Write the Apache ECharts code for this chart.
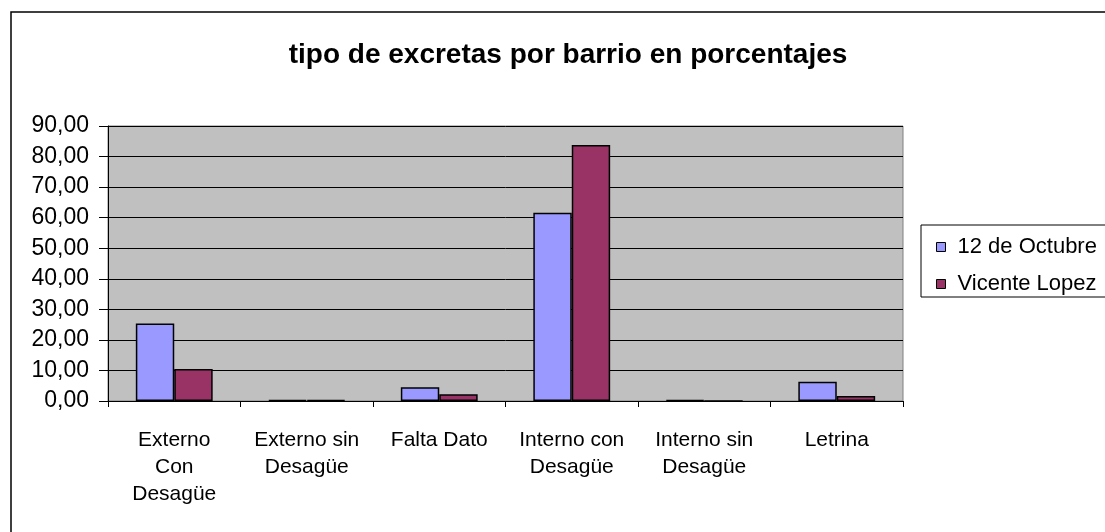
<!DOCTYPE html>
<html>
<head>
<meta charset="utf-8">
<script src="https://cdn.jsdelivr.net/npm/echarts@6/dist/echarts.min.js"></script>
<style>
  html, body { margin: 0; padding: 0; background: #fff; }
  #chart { width: 1105px; height: 532px; }
</style>
</head>
<body>
<div id="chart"></div>
<script>
// datos
const categorias = ['Externo\nCon\nDesagüe', 'Externo sin\nDesagüe', 'Falta Dato', 'Interno con\nDesagüe', 'Interno sin\nDesagüe', 'Letrina']
const octubre = [25.4, 0.3, 4.5, 61.6, 0.3, 6.3]
const vicenteLopez = [10.5, 0.3, 2.2, 83.8, 0, 1.6]
const series_nombres = ['12 de Octubre', 'Vicente Lopez']

const chart = echarts.init(document.getElementById('chart'), null, { renderer: 'canvas' })
const fuente = '"Liberation Sans", Arial, sans-serif'

chart.setOption({
  animation: false,
  textStyle: { fontFamily: fuente },
  title: {
    text: 'tipo de excretas por barrio en porcentajes',
    left: 563,
    textAlign: 'center',
    top: 36,
    textStyle: { fontSize: 28, fontWeight: 'bold', color: '#000', fontFamily: fuente }
  },
  graphic: [
    // marco exterior
    { type: 'rect', shape: { x: 11, y: 12, width: 1120, height: 540 }, style: { fill: null, stroke: '#000', lineWidth: 1.5 }, z: -10 },
    // caja de la leyenda
    { type: 'rect', shape: { x: 921, y: 225, width: 200, height: 72 }, style: { fill: '#fff', stroke: '#000', lineWidth: 1 }, z: -5 }
  ],
  legend: {
    orient: 'vertical',
    left: 931,
    top: 231,
    itemWidth: 9,
    itemHeight: 9,
    itemGap: 15,
    icon: 'rect',
    data: series_nombres,
    textStyle: { fontSize: 22, color: '#000', fontFamily: fuente, padding: [0, 0, 0, 7] },
    itemStyle: { borderColor: '#000', borderWidth: 1 }
  },
  grid: {
    left: 108,
    right: 202,
    top: 126,
    bottom: 131,
    show: true,
    backgroundColor: '#c0c0c0',
    borderColor: '#808080',
    borderWidth: 1
  },
  xAxis: {
    type: 'category',
    data: categorias,
    axisLine: { lineStyle: { color: '#000', width: 1 } },
    axisTick: { show: true, length: 6, lineStyle: { color: '#000' } },
    axisLabel: { fontSize: 21, color: '#000', lineHeight: 27, margin: 26, interval: 0, fontFamily: fuente }
  },
  yAxis: {
    type: 'value',
    min: 0,
    max: 90,
    interval: 10,
    axisLine: { show: true, lineStyle: { color: '#000' } },
    axisTick: { show: true, length: 9, lineStyle: { color: '#000' } },
    splitLine: { lineStyle: { color: '#000', width: 1 } },
    axisLabel: {
      fontSize: 23, color: '#000', margin: 19, fontFamily: fuente,
      formatter: v => v.toFixed(2).replace('.', ',')
    }
  },
  series: [
    {
      name: series_nombres[0],
      type: 'bar',
      data: octubre,
      barGap: '0%',
      barCategoryGap: '42%',
      itemStyle: { color: '#9999ff', borderColor: '#000', borderWidth: 1.5 }
    },
    {
      name: series_nombres[1],
      type: 'bar',
      data: vicenteLopez,
      itemStyle: { color: '#993366', borderColor: '#000', borderWidth: 1.5 }
    }
  ]
})
</script>
</body>
</html>
